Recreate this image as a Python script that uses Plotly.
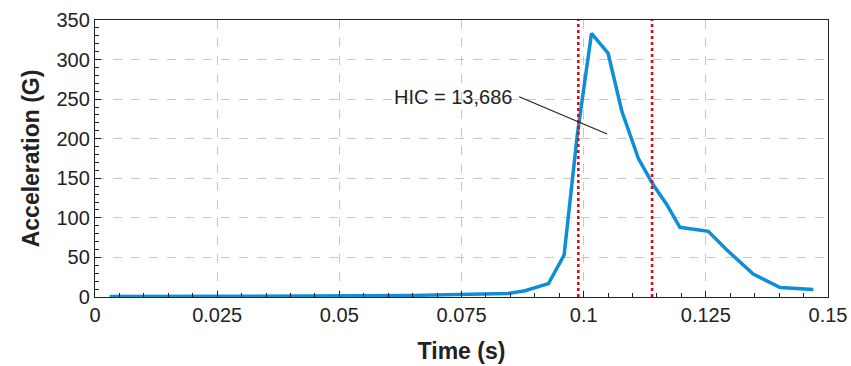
import plotly.graph_objects as go

time_s = [0.003, 0.02, 0.04, 0.055, 0.065, 0.075, 0.08, 0.0845, 0.088, 0.0928, 0.096,
          0.0987, 0.1016, 0.105, 0.1078, 0.1112, 0.1142, 0.117, 0.1197, 0.1255, 0.1292,
          0.1347, 0.1402, 0.147]
accel_g = [0.5, 0.6, 0.8, 1.5, 2.0, 3.0, 4.0, 4.5, 8.0, 17.0, 53.0,
           205.0, 333.0, 308.0, 235.0, 175.0, 142.0, 117.0, 88.0, 83.0, 60.0,
           29.0, 12.0, 9.5]
hic_window = [0.0989, 0.1140]
hic_label = "HIC = 13,686"
label_pos = (0.0857, 253)
leader = [(0.0868, 253), (0.1048, 206)]

x_ticks = [0, 0.025, 0.05, 0.075, 0.1, 0.125, 0.15]
x_tick_text = ["0", "0.025", "0.05", "0.075", "0.1", "0.125", "0.15"]
y_ticks = [0, 50, 100, 150, 200, 250, 300, 350]

FONT = "Liberation Sans, Arial, sans-serif"

fig = go.Figure()
fig.add_trace(go.Scatter(x=time_s, y=accel_g, mode="lines",
                         line=dict(color="#0d8fd6", width=3.5), showlegend=False))

for t in hic_window:
    fig.add_shape(type="line", xref="x", yref="paper", x0=t, x1=t, y0=0, y1=1,
                  line=dict(color="#d0101e", width=2.6, dash="dot"))

fig.add_shape(type="line", xref="x", yref="y",
              x0=leader[0][0], y0=leader[0][1], x1=leader[1][0], y1=leader[1][1],
              line=dict(color="#222222", width=1.2))

fig.add_annotation(x=label_pos[0], y=label_pos[1], text=hic_label, showarrow=False,
                   xanchor="right", yanchor="middle",
                   font=dict(family=FONT, size=20, color="#222222"))

axis_common = dict(showline=True, linecolor="#222222", linewidth=1.3, mirror=True,
                   ticks="inside", ticklen=6, tickcolor="#222222",
                   showgrid=True, gridcolor="#c8c8c8", griddash="dash", gridwidth=1,
                   zeroline=False, automargin=False,
                   tickfont=dict(family=FONT, size=20, color="#222222"))

fig.update_xaxes(range=[0, 0.15], tickvals=x_ticks, ticktext=x_tick_text,
                 minor=dict(dtick=0.005, ticks="inside", ticklen=4, tickcolor="#222222",
                            showgrid=False),
                 title=dict(text="<b>Time (s)</b>", font=dict(family=FONT, size=23, color="#222222"),
                            standoff=17),
                 **axis_common)
fig.update_yaxes(range=[0, 350], tickvals=y_ticks,
                 minor=dict(dtick=10, ticks="inside", ticklen=4, tickcolor="#222222",
                            showgrid=False),
                 title=dict(text="<b>Acceleration (G)</b>", font=dict(family=FONT, size=23, color="#222222"),
                            standoff=10),
                 **axis_common)

fig.update_layout(width=851, height=366, margin=dict(l=95, r=23, t=20, b=69),
                  plot_bgcolor="white", paper_bgcolor="white")

fig.write_html("out.html")
